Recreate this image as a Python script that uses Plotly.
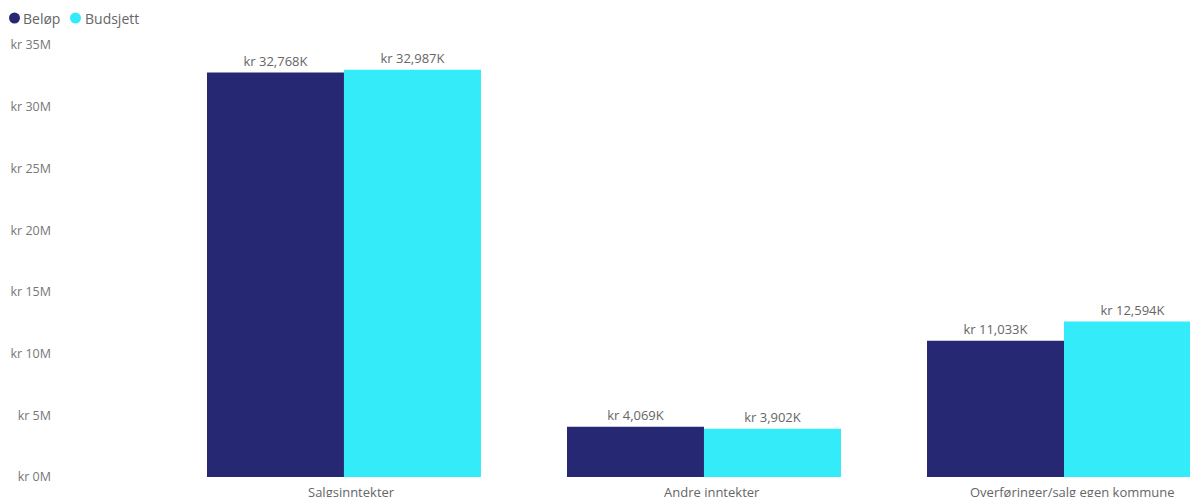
import plotly.graph_objects as go

categories = ["Salgsinntekter", "Andre inntekter", "Overføringer/salg egen kommune"]
series_names = ["Beløp", "Budsjett"]
belop = [32768000, 4069000, 11033000]
budsjett = [32987000, 3902000, 12594000]
colors = ["#262873", "#33EBF9"]
y_tickvals = [0, 5e6, 10e6, 15e6, 20e6, 25e6, 30e6, 35e6]
y_ticktext = ["kr 0M", "kr 5M", "kr 10M", "kr 15M", "kr 20M", "kr 25M", "kr 30M", "kr 35M"]

FONT = "Open Sans"
fig = go.Figure()
for name, vals, col in zip(series_names, [belop, budsjett], colors):
    fig.add_trace(go.Bar(
        x=categories, y=vals, name=name,
        marker=dict(color=col, line=dict(width=0)),
        text=[f"kr {v/1000:,.0f}K" for v in vals],
        textposition="outside", cliponaxis=False,
        textfont=dict(family=FONT, size=13, color="#666666"),
        showlegend=False,
    ))

# legend drawn manually (circle + text), Power BI style
annotations = []
shapes = []
legend_marker_x = [-0.03295, 0.02065]
legend_text_x = [-0.0272, 0.0272]
legend_y = 1.0625
for n, c, mx, tx in zip(series_names, colors, legend_marker_x, legend_text_x):
    shapes.append(dict(
        type="circle", xref="paper", yref="paper", xsizemode="pixel", ysizemode="pixel",
        xanchor=mx, yanchor=legend_y, x0=-5.5, x1=5.5, y0=-5.5, y1=5.5,
        fillcolor=c, line=dict(width=0),
    ))
    annotations.append(dict(
        xref="paper", yref="paper", x=tx, y=legend_y, xanchor="left", yanchor="middle",
        text=n, showarrow=False, font=dict(family=FONT, size=14, color="#666666"),
    ))
for c in categories:
    annotations.append(dict(
        xref="x", yref="paper", x=c, y=0, xanchor="center", yanchor="top",
        xshift=8, yshift=-4, text=c, showarrow=False,
        font=dict(family=FONT, size=13, color="#666666"),
    ))

fig.update_layout(
    width=1190, height=497,
    margin=dict(l=52, r=0, t=45, b=20),
    paper_bgcolor="white", plot_bgcolor="white",
    barmode="group", bargap=0.239, bargroupgap=0,
    font=dict(family=FONT),
    annotations=annotations,
    shapes=shapes,
    xaxis=dict(range=[-0.811, 2.35], showticklabels=False, showgrid=False,
               zeroline=False, showline=False, fixedrange=True),
    yaxis=dict(range=[0, 35e6], tickvals=y_tickvals, ticktext=y_ticktext,
               showgrid=False, zeroline=False, showline=False, fixedrange=True,
               tickfont=dict(family=FONT, size=12.5, color="#777777")),
)

fig.write_html("out.html", config={"displayModeBar": False},
               post_script="document.body.style.margin='0';document.body.style.overflow='hidden';")
